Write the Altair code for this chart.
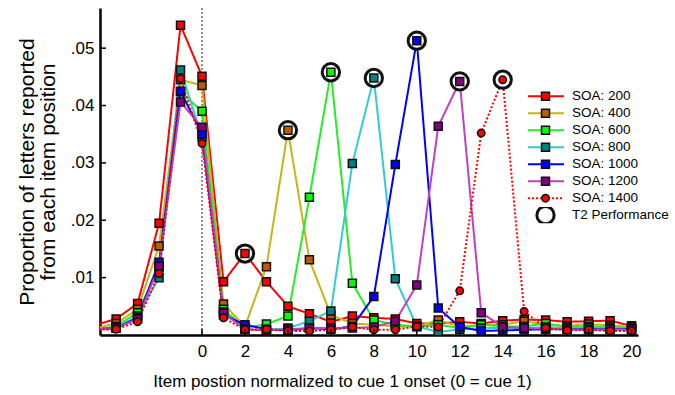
import altair as alt
import pandas as pd

# ---------------- data ----------------
positions = list(range(-5, 21))
series_names = ["SOA: 200", "SOA: 400", "SOA: 600", "SOA: 800",
                "SOA: 1000", "SOA: 1200", "SOA: 1400"]

soa200 = [0.0017, 0.0028, 0.0055, 0.0195, 0.0540, 0.0451, 0.0093, 0.0142, 0.0093, 0.0050,
          0.0037, 0.0023, 0.0033, 0.0030, 0.0028, 0.0020, 0.0020, 0.0023, 0.0020, 0.0025,
          0.0027, 0.0026, 0.0023, 0.0024, 0.0025, 0.0016]
soa400 = [0.0012, 0.0020, 0.0045, 0.0155, 0.0445, 0.0435, 0.0054, 0.0015, 0.0119, 0.0357,
          0.0131, 0.0035, 0.0020, 0.0018, 0.0015, 0.0015, 0.0026, 0.0015, 0.0017, 0.0018,
          0.0024, 0.0018, 0.0016, 0.0019, 0.0017, 0.0014]
soa600 = [0.0010, 0.0015, 0.0039, 0.0118, 0.0424, 0.0390, 0.0045, 0.0012, 0.0019, 0.0033,
          0.0240, 0.0458, 0.0090, 0.0026, 0.0018, 0.0015, 0.0018, 0.0012, 0.0018, 0.0015,
          0.0015, 0.0020, 0.0014, 0.0015, 0.0014, 0.0012]
soa800 = [0.0010, 0.0013, 0.0033, 0.0100, 0.0462, 0.0345, 0.0040, 0.0010, 0.0008, 0.0012,
          0.0024, 0.0042, 0.0299, 0.0448, 0.0098, 0.0015, 0.0005, 0.0010, 0.0012, 0.0012,
          0.0012, 0.0014, 0.0012, 0.0013, 0.0012, 0.0011]
soa1000 = [0.0010, 0.0012, 0.0030, 0.0127, 0.0425, 0.0350, 0.0035, 0.0018, 0.0010, 0.0008,
           0.0012, 0.0010, 0.0015, 0.0067, 0.0297, 0.0513, 0.0047, 0.0014, 0.0007, 0.0008,
           0.0009, 0.0010, 0.0010, 0.0010, 0.0010, 0.0010]
soa1200 = [0.0010, 0.0012, 0.0028, 0.0120, 0.0406, 0.0362, 0.0038, 0.0010, 0.0008, 0.0010,
           0.0012, 0.0012, 0.0012, 0.0014, 0.0024, 0.0087, 0.0364, 0.0442, 0.0039, 0.0014,
           0.0012, 0.0011, 0.0010, 0.0009, 0.0010, 0.0009]
soa1400 = [0.0009, 0.0010, 0.0023, 0.0107, 0.0447, 0.0334, 0.0030, 0.0009, 0.0010, 0.0007,
           0.0007, 0.0009, 0.0014, 0.0009, 0.0009, 0.0015, 0.0014, 0.0077, 0.0352, 0.0445,
           0.0041, 0.0012, 0.0008, 0.0009, 0.0007, 0.0007]

t2_positions = [2, 4, 6, 8, 10, 12, 14]
t2_values = [0.0142, 0.0357, 0.0458, 0.0448, 0.0513, 0.0442, 0.0445]

y_tick_values = [0.01, 0.02, 0.03, 0.04, 0.05]
x_tick_values = [0, 2, 4, 6, 8, 10, 12, 14, 16, 18, 20]

T2 = "T2 Performance"
legend_domain = series_names + [T2]
marker_keys = ["marker " + s for s in series_names] + ["marker T2"]
line_colors = ["#ff0000", "#c8b414", "#22ee22", "#33cccc", "#0000ff", "#c040c0", "#ff0000", "transparent"]
marker_fills = ["#ff0000", "#c05a00", "#00ff00", "#008080", "#0000ff", "#800080", "#ff0000", "white"]
marker_outline = ["#111111"] * 8
marker_shapes = ["square"] * 6 + ["circle", "circle"]
marker_sizes = [64] * 6 + [56, 300]
marker_strokes = [1.5] * 7 + [3]
dash_range = [[1, 0]] * 6 + [[2, 2], [1, 0]]

all_values = [soa200, soa400, soa600, soa800, soa1000, soa1200, soa1400]
rows = []
for name, key, vals in zip(series_names, marker_keys, all_values):
    for p, v in zip(positions, vals):
        rows.append({"pos": p, "val": v, "series": name, "mkey": key})
df = pd.DataFrame(rows)
df_pts = df[df["pos"] >= -4]
df_t2 = pd.DataFrame({"pos": t2_positions, "val": t2_values, "mkey": ["marker T2"] * len(t2_positions)})
df_yt = pd.DataFrame({"val": y_tick_values})
df_xt = pd.DataFrame({"pos": x_tick_values})
df_zero = pd.DataFrame({"pos": [0]})

# ---------------- layout ----------------
W, H = 538, 327
FONT = "Liberation Sans"

x_scale = alt.Scale(domain=[-4.75, 20.3], nice=False, zero=False)
y_scale = alt.Scale(domain=[0, 0.057], nice=False, zero=False)

x_enc = alt.X("pos:Q", scale=x_scale,
              axis=alt.Axis(values=x_tick_values, title="Item postion normalized to cue 1 onset (0 = cue 1)",
                            ticks=False, grid=False, labelPadding=8, titlePadding=14, titleX=242))
y_enc = alt.Y("val:Q", scale=y_scale,
              axis=alt.Axis(values=y_tick_values, title=["Proportion of letters reported", "from each item position"],
                            ticks=False, grid=False, labelPadding=6, titlePadding=12,
                            labelExpr="'.' + substring(format(datum.value, '.2f'), 2)"))

legA = alt.Legend(orient="none", legendX=427, legendY=80, title=None, symbolType="stroke",
                  symbolSize=1296, symbolStrokeWidth=2, clipHeight=16.3, rowPadding=0,
                  labelFontSize=13.5, labelFont=FONT, labelColor="black", labelOffset=7, padding=0)
legB = alt.Legend(orient="none", legendX=427, legendY=80, title=None,
                  clipHeight=16.3, rowPadding=0, labelFontSize=13, labelExpr="''",
                  symbolOffset=8, padding=0)

zero_line = alt.Chart(df_zero).mark_rule(color="#555555", strokeDash=[2, 2], strokeWidth=1.3).encode(
    x=alt.X("pos:Q", scale=x_scale))

lines = alt.Chart(df).mark_line(strokeWidth=2, clip=True).encode(
    x=x_enc, y=y_enc,
    color=alt.Color("series:N", scale=alt.Scale(domain=legend_domain, range=line_colors), legend=legA),
    strokeDash=alt.StrokeDash("series:N", scale=alt.Scale(domain=legend_domain, range=dash_range), legend=legA),
    detail="series:N",
    order="pos:Q",
)

fill_s = alt.Scale(domain=marker_keys, range=marker_fills)
stroke_s = alt.Scale(domain=marker_keys, range=marker_outline)
shape_s = alt.Scale(domain=marker_keys, range=marker_shapes)
size_s = alt.Scale(type="ordinal", domain=marker_keys, range=marker_sizes)
sw_s = alt.Scale(type="ordinal", domain=marker_keys, range=marker_strokes)

def point_enc(ch):
    return ch.encode(
        x=alt.X("pos:Q", scale=x_scale), y=alt.Y("val:Q", scale=y_scale),
        fill=alt.Fill("mkey:N", scale=fill_s, legend=legB),
        stroke=alt.Stroke("mkey:N", scale=stroke_s, legend=legB),
        shape=alt.Shape("mkey:N", scale=shape_s, legend=legB),
        size=alt.Size("mkey:N", scale=size_s, legend=legB),
        strokeWidth=alt.StrokeWidth("mkey:N", scale=sw_s, legend=legB),
    )

circles = point_enc(alt.Chart(df_t2).mark_point(filled=True, opacity=1, clip=True))
points = point_enc(alt.Chart(df_pts).mark_point(filled=True, opacity=1, clip=True))

ytick = alt.Chart(df_yt).mark_rule(color="black", strokeWidth=1.5).encode(
    y=alt.Y("val:Q", scale=y_scale), x=alt.value(0), x2=alt.value(6))
xtick = alt.Chart(df_xt).mark_rule(color="black", strokeWidth=1.5).encode(
    x=alt.X("pos:Q", scale=x_scale), y=alt.value(H), y2=alt.value(H - 6))

chart = alt.layer(zero_line, lines, circles, points, ytick, xtick).properties(
    width=W, height=H,
    autosize=alt.AutoSizeParams(type="none"),
    padding={"left": 100, "top": 8, "right": 37, "bottom": 60},
    background="white",
).configure_view(strokeWidth=0).configure_axis(
    domainColor="black", domainWidth=2.5, labelFont=FONT, titleFont=FONT,
    labelFontSize=17, titleFontSize=17, labelColor="black", titleColor="black",
    titleFontWeight="normal",
).configure_axisY(titleFontSize=21, titleLineHeight=21)

chart.save("out.html", embed_options={"renderer": "svg", "actions": False})
